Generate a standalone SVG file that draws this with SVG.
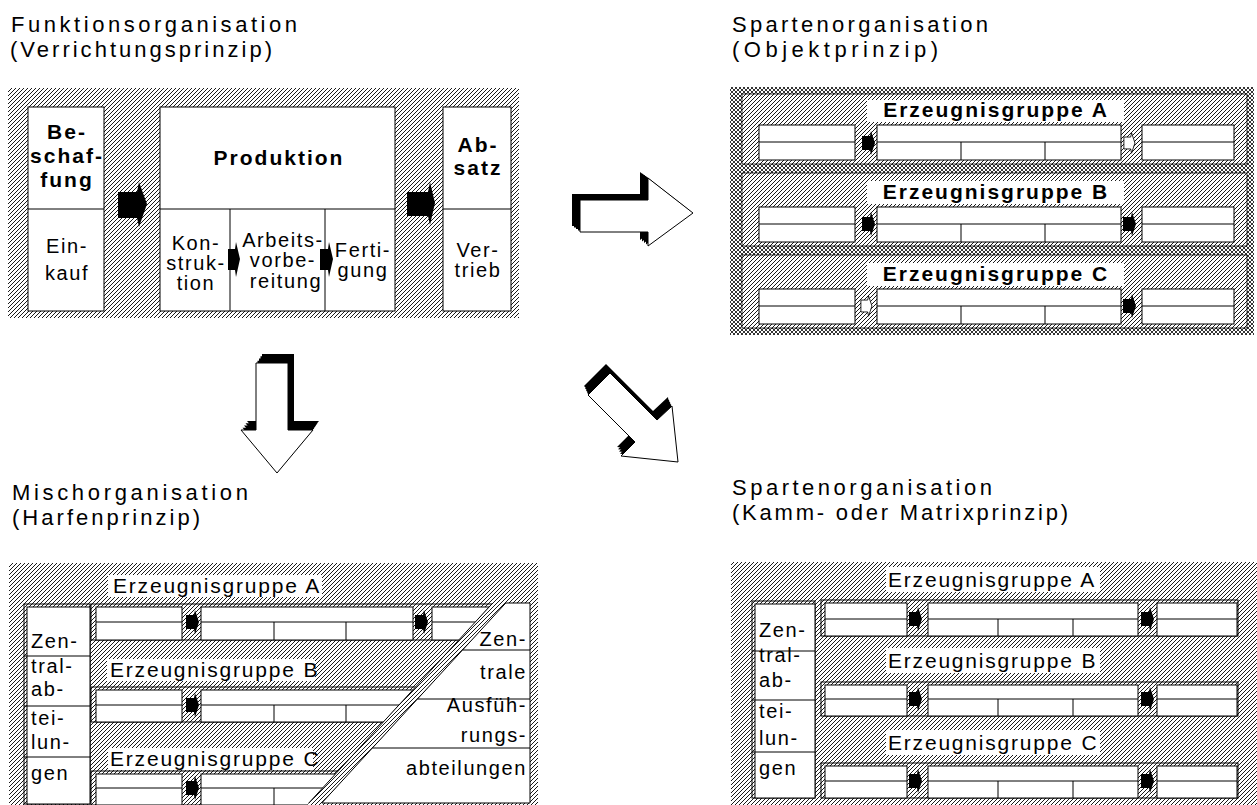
<svg xmlns="http://www.w3.org/2000/svg" width="1257" height="805" viewBox="0 0 1257 805">
<defs>
<pattern id="h" patternUnits="userSpaceOnUse" width="4" height="4">
<rect width="4" height="4" fill="#fff"/>
<path d="M-1,1 L1,-1 M0,4 L4,0 M3,5 L5,3" stroke="#000" stroke-width="0.9"/>
</pattern>
<pattern id="x" patternUnits="userSpaceOnUse" width="4" height="4">
<rect width="4" height="4" fill="#fff"/>
<path d="M-1,1 L1,-1 M0,4 L4,0 M3,5 L5,3 M-1,3 L1,5 M0,0 L4,4 M3,-1 L5,1" stroke="#000" stroke-width="0.8"/>
</pattern>
<path id="sa" d="M-6,-7 H2 L3,-12 L7,0 L3,12 L2,7 H-6 Z"/>
<polygon id="fr" points="580,200 648,200 648,178 693,213 648,246 648,232 580,232"/>
<polygon id="fd" points="256,363 288,363 288,430 313,430 277,473 241,430 256,430"/>
<polygon id="fg" points="588,395 610,373 657,420 672,406 678,462 621,456 635,442"/>
<clipPath id="cl"><polygon points="0,560 532,560 307,805 0,805"/></clipPath>
</defs>
<style>
.t{font-family:"Liberation Sans",Arial,sans-serif;font-size:20px;letter-spacing:1.6px;fill:#000}
.b{font-weight:bold;font-size:21px;letter-spacing:2px}
.e{font-size:21px;letter-spacing:1.8px}
.ti{font-size:22px;letter-spacing:0}
.c{text-anchor:middle}
.r{text-anchor:end}
.box{fill:#fff;stroke:#000;stroke-width:1}
.fr{fill:none;stroke:#000;stroke-width:1}
.ln{stroke:#000;stroke-width:1;fill:none}
.hat{fill:url(#h)}
.hb{fill:url(#h);stroke:#000;stroke-width:0.8}
.lab{fill:#fff}
.bk{fill:#000}
.wh{fill:#fff;stroke:#000;stroke-width:1}
</style>

<g id="titles">
<text class="t ti" x="11" y="32" textLength="286" lengthAdjust="spacing">Funktionsorganisation</text>
<text class="t ti" x="10" y="57" textLength="262" lengthAdjust="spacing">(Verrichtungsprinzip)</text>
<text class="t ti" x="732" y="32" textLength="256" lengthAdjust="spacing">Spartenorganisation</text>
<text class="t ti" x="732" y="57" textLength="206" lengthAdjust="spacing">(Objektprinzip)</text>
<text class="t ti" x="12" y="500" textLength="236" lengthAdjust="spacing">Mischorganisation</text>
<text class="t ti" x="12" y="525" textLength="188" lengthAdjust="spacing">(Harfenprinzip)</text>
<text class="t ti" x="732" y="495" textLength="260" lengthAdjust="spacing">Spartenorganisation</text>
<text class="t ti" x="732" y="520" textLength="336" lengthAdjust="spacing">(Kamm- oder Matrixprinzip)</text>
</g>

<g id="funktion">
<rect x="8" y="88" width="511" height="230" class="hat"/>
<g id="beschaffung">
<rect class="box" x="28" y="107" width="76" height="204"/>
<line class="ln" x1="28" y1="209" x2="104" y2="209"/>
<text class="t b c" x="67" y="139">Be-</text>
<text class="t b c" x="67" y="163">schaf-</text>
<text class="t b c" x="67" y="187">fung</text>
<text class="t c" x="67" y="253">Ein-</text>
<text class="t c" x="67" y="280">kauf</text>
</g>
<g id="produktion">
<rect class="box" x="160" y="107" width="235" height="204"/>
<line class="ln" x1="160" y1="209" x2="395" y2="209"/>
<line class="ln" x1="230" y1="209" x2="230" y2="311"/>
<line class="ln" x1="325" y1="209" x2="325" y2="311"/>
<text class="t b c" x="279" y="165">Produktion</text>
<text class="t c" x="196" y="250">Kon-</text>
<text class="t c" x="196" y="270">struk-</text>
<text class="t c" x="196" y="290">tion</text>
<text class="t c" x="283" y="247">Arbeits-</text>
<text class="t c" x="283" y="267">vorbe-</text>
<text class="t c" x="286" y="288">reitung</text>
<text class="t c" x="363" y="257">Ferti-</text>
<text class="t c" x="363" y="277">gung</text>
</g>
<g id="absatz">
<rect class="box" x="443" y="107" width="68" height="204"/>
<line class="ln" x1="443" y1="209" x2="511" y2="209"/>
<text class="t b c" x="478" y="152">Ab-</text>
<text class="t b c" x="478" y="175">satz</text>
<text class="t c" x="478" y="257">Ver-</text>
<text class="t c" x="478" y="277">trieb</text>
</g>
</g>

<g id="objekt">
<rect x="730" y="87" width="524" height="248" fill="url(#x)"/>
<g id="obj-a">
<rect class="hb" x="742" y="94" width="505" height="70"/>
<rect class="lab" x="867" y="100" width="257" height="22"/>
<text class="t b c" x="996" y="117">Erzeugnisgruppe A</text>
<rect class="box" x="759" y="125" width="96" height="35"/>
<line class="ln" x1="759" y1="142" x2="855" y2="142"/>
<rect class="box" x="877" y="125" width="244" height="35"/>
<path class="ln" d="M877,142 H1121 M961,142 V160 M1045,142 V160"/>
<rect class="box" x="1142" y="125" width="92" height="35"/>
<line class="ln" x1="1142" y1="142" x2="1234" y2="142"/>
</g>
<g id="obj-b">
<rect class="hb" x="742" y="173" width="505" height="73"/>
<rect class="lab" x="867" y="181" width="257" height="23"/>
<text class="t b c" x="996" y="199">Erzeugnisgruppe B</text>
<rect class="box" x="759" y="207" width="96" height="35"/>
<line class="ln" x1="759" y1="224" x2="855" y2="224"/>
<rect class="box" x="877" y="207" width="244" height="35"/>
<path class="ln" d="M877,224 H1121 M961,224 V242 M1045,224 V242"/>
<rect class="box" x="1142" y="207" width="92" height="35"/>
<line class="ln" x1="1142" y1="224" x2="1234" y2="224"/>
</g>
<g id="obj-c">
<rect class="hb" x="742" y="255" width="505" height="73"/>
<rect class="lab" x="867" y="263" width="257" height="23"/>
<text class="t b c" x="996" y="281">Erzeugnisgruppe C</text>
<rect class="box" x="759" y="289" width="96" height="35"/>
<line class="ln" x1="759" y1="306" x2="855" y2="306"/>
<rect class="box" x="877" y="289" width="244" height="35"/>
<path class="ln" d="M877,306 H1121 M961,306 V324 M1045,306 V324"/>
<rect class="box" x="1142" y="289" width="92" height="35"/>
<line class="ln" x1="1142" y1="306" x2="1234" y2="306"/>
</g>
</g>

<g id="harfe">
<rect x="9" y="563" width="529" height="242" class="hat"/>
<g id="harfe-zentral">
<rect class="fr" x="24" y="604" width="66" height="200"/>
<rect class="box" x="27" y="607" width="63" height="197"/>
<path class="ln" d="M24,656 H90 M24,706 H90 M24,757 H90"/>
<text class="t" x="31" y="648">Zen-</text>
<text class="t" x="31" y="673">tral-</text>
<text class="t" x="31" y="696">ab-</text>
<text class="t" x="31" y="725">tei-</text>
<text class="t" x="31" y="749">lun-</text>
<text class="t" x="31" y="780">gen</text>
</g>
<g id="harfe-rows" clip-path="url(#cl)">
<rect class="fr" x="91" y="604" width="440" height="36"/>
<rect class="box" x="96" y="607" width="86" height="33"/>
<line class="ln" x1="96" y1="622" x2="182" y2="622"/>
<rect class="box" x="201" y="607" width="212" height="33"/>
<path class="ln" d="M201,622 H413 M274,622 V640 M346,622 V640"/>
<rect class="box" x="432" y="607" width="100" height="33"/>
<line class="ln" x1="432" y1="622" x2="532" y2="622"/>
<rect class="fr" x="91" y="687" width="440" height="35"/>
<rect class="box" x="96" y="690" width="86" height="32"/>
<line class="ln" x1="96" y1="705" x2="182" y2="705"/>
<rect class="box" x="201" y="690" width="330" height="32"/>
<path class="ln" d="M201,705 H531 M274,705 V722 M346,705 V722"/>
<rect class="fr" x="91" y="771" width="440" height="34"/>
<rect class="box" x="96" y="774" width="86" height="31"/>
<line class="ln" x1="96" y1="788" x2="182" y2="788"/>
<rect class="box" x="201" y="774" width="330" height="31"/>
<path class="ln" d="M201,788 H531 M274,788 V805 M346,788 V805"/>
</g>
<rect class="lab" x="108" y="575" width="214" height="22"/>
<text class="t e" x="113" y="593">Erzeugnisgruppe A</text>
<rect class="lab" x="107" y="659" width="208" height="22"/>
<text class="t e" x="110" y="677">Erzeugnisgruppe B</text>
<rect class="lab" x="108" y="748" width="205" height="22"/>
<text class="t e" x="110" y="766">Erzeugnisgruppe C</text>
<line class="ln" x1="492.8" y1="603" x2="308.8" y2="803"/>
<g id="harfe-ausfuehrung">
<polygon class="box" points="505.8,603 530,603 530,803 321.8,803"/>
<path class="ln" d="M462.6,650 H530 M417.5,699 H530 M372.4,748 H530"/>
<text class="t r" x="527" y="646">Zen-</text>
<text class="t r" x="527" y="679">trale</text>
<text class="t r" x="527" y="712">Ausfüh-</text>
<text class="t r" x="527" y="742">rungs-</text>
<text class="t r" x="527" y="775">abteilungen</text>
</g>
</g>

<g id="matrix">
<rect x="731" y="562" width="526" height="243" class="hat"/>
<g id="matrix-zentral">
<rect class="fr" x="752" y="601" width="63" height="197"/>
<rect class="box" x="755" y="604" width="60" height="194"/>
<path class="ln" d="M752,651 H815 M752,700 H815 M752,752 H815"/>
<text class="t" x="759" y="637">Zen-</text>
<text class="t" x="759" y="662">tral-</text>
<text class="t" x="759" y="687">ab-</text>
<text class="t" x="759" y="718">tei-</text>
<text class="t" x="759" y="745">lun-</text>
<text class="t" x="759" y="775">gen</text>
</g>
<g id="matrix-a">
<rect class="lab" x="886" y="567" width="214" height="25"/>
<text class="t e" x="888" y="587">Erzeugnisgruppe A</text>
<rect class="fr" x="821" y="600" width="417" height="36"/>
<rect class="box" x="825" y="603" width="82" height="33"/>
<line class="ln" x1="825" y1="619" x2="907" y2="619"/>
<rect class="box" x="928" y="603" width="210" height="33"/>
<path class="ln" d="M928,619 H1138 M998,619 V636 M1073,619 V636"/>
<rect class="box" x="1157" y="603" width="80" height="33"/>
<line class="ln" x1="1157" y1="619" x2="1237" y2="619"/>
</g>
<g id="matrix-b">
<rect class="lab" x="886" y="648" width="214" height="25"/>
<text class="t e" x="888" y="668">Erzeugnisgruppe B</text>
<rect class="fr" x="821" y="682" width="417" height="34"/>
<rect class="box" x="825" y="685" width="82" height="31"/>
<line class="ln" x1="825" y1="699" x2="907" y2="699"/>
<rect class="box" x="928" y="685" width="210" height="31"/>
<path class="ln" d="M928,699 H1138 M998,699 V716 M1073,699 V716"/>
<rect class="box" x="1157" y="685" width="80" height="31"/>
<line class="ln" x1="1157" y1="699" x2="1237" y2="699"/>
</g>
<g id="matrix-c">
<rect class="lab" x="886" y="730" width="214" height="25"/>
<text class="t e" x="888" y="750">Erzeugnisgruppe C</text>
<rect class="fr" x="821" y="763" width="417" height="35"/>
<rect class="box" x="825" y="766" width="82" height="32"/>
<line class="ln" x1="825" y1="781" x2="907" y2="781"/>
<rect class="box" x="928" y="766" width="210" height="32"/>
<path class="ln" d="M928,781 H1138 M998,781 V798 M1073,781 V798"/>
<rect class="box" x="1157" y="766" width="80" height="32"/>
<line class="ln" x1="1157" y1="781" x2="1237" y2="781"/>
</g>
</g>

<g id="connectors">
<polygon class="bk" points="118,192 137,192 139,182 147,204 139,227 137,218 118,218"/>
<polygon class="bk" points="407,192 428,192 430,182 435,203 430,225 428,216 407,216"/>
<polygon class="bk" points="228,249 235,249 236,242 240,259 236,277 235,270 228,270"/>
<polygon class="bk" points="320,249 328,249 329,242 333,259 329,277 328,270 320,270"/>
<use href="#sa" class="bk" transform="translate(868,143)"/>
<use href="#sa" class="wh" transform="translate(1129,143) scale(0.85)"/>
<use href="#sa" class="bk" transform="translate(868,224)"/>
<use href="#sa" class="bk" transform="translate(1129,224)"/>
<use href="#sa" class="wh" transform="translate(866,306) scale(0.85)"/>
<use href="#sa" class="bk" transform="translate(1129,306)"/>
<use href="#sa" class="bk" transform="translate(192,622)"/>
<use href="#sa" class="bk" transform="translate(421,622)"/>
<use href="#sa" class="bk" transform="translate(192,705)"/>
<use href="#sa" class="bk" transform="translate(192,788)"/>
<use href="#sa" class="bk" transform="translate(915,619)"/>
<use href="#sa" class="bk" transform="translate(1147,619)"/>
<use href="#sa" class="bk" transform="translate(915,699)"/>
<use href="#sa" class="bk" transform="translate(1147,699)"/>
<use href="#sa" class="bk" transform="translate(915,781)"/>
<use href="#sa" class="bk" transform="translate(1147,781)"/>
<g id="arrow-right">
<use href="#fr" class="bk" transform="translate(-8,-6)"/>
<use href="#fr" class="bk" transform="translate(-6,-4.5)"/>
<use href="#fr" class="bk" transform="translate(-4,-3)"/>
<use href="#fr" class="bk" transform="translate(-2,-1.5)"/>
<use href="#fr" class="wh"/>
</g>
<g id="arrow-down">
<use href="#fd" class="bk" transform="translate(6,-9)"/>
<use href="#fd" class="bk" transform="translate(4.5,-6.75)"/>
<use href="#fd" class="bk" transform="translate(3,-4.5)"/>
<use href="#fd" class="bk" transform="translate(1.5,-2.25)"/>
<use href="#fd" class="wh"/>
</g>
<g id="arrow-diag">
<use href="#fg" class="bk" transform="translate(-4,-9)"/>
<use href="#fg" class="bk" transform="translate(-3,-6.75)"/>
<use href="#fg" class="bk" transform="translate(-2,-4.5)"/>
<use href="#fg" class="bk" transform="translate(-1,-2.25)"/>
<use href="#fg" class="wh"/>
</g>
</g>
</svg>
